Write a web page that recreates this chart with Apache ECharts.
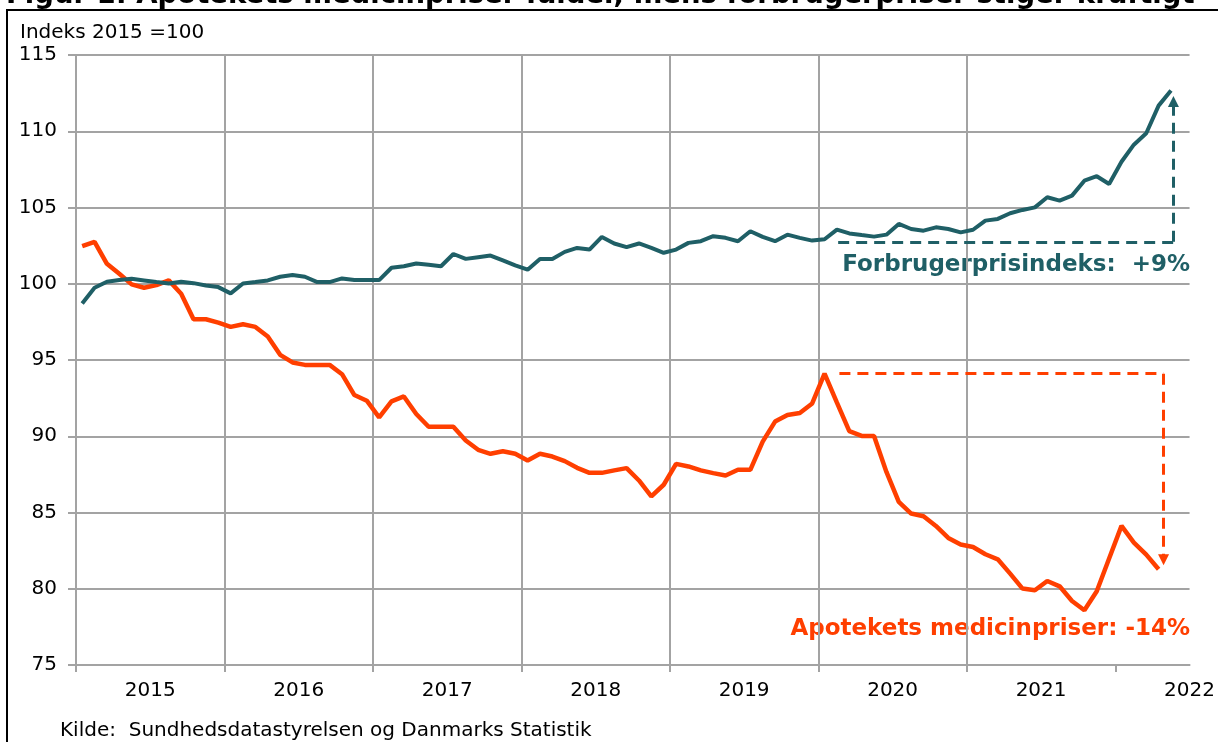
<!DOCTYPE html>
<html>
<head>
<meta charset="utf-8">
<script src="https://cdn.jsdelivr.net/npm/echarts@6/dist/echarts.min.js"></script>
<style>
  html, body { margin: 0; padding: 0; background: #fff; }
  #chart { width: 1218px; height: 742px; }
</style>
</head>
<body>
<div id="chart"></div>
<script>
// monthly index, 2015 = 100 (Jan 2015 onwards)
const yearLabels = ['2015', '2016', '2017', '2018', '2019', '2020', '2021', '2022'];

const forbrugerpriser = [
  98.71, 99.74, 100.13, 100.24, 100.33, 100.22, 100.11, 100.02, 100.13, 100.04, 99.89, 99.78,
  99.37, 100.02, 100.11, 100.22, 100.46, 100.57, 100.46, 100.11, 100.11, 100.35, 100.24, 100.24,
  100.24, 101.05, 101.15, 101.33, 101.24, 101.15, 101.95, 101.63, 101.74, 101.85, 101.53, 101.2,
  100.92, 101.63, 101.63, 102.09, 102.35, 102.24, 103.07, 102.64, 102.4, 102.64, 102.35, 102.03,
  102.24, 102.68, 102.79, 103.12, 103.01, 102.79, 103.44, 103.07, 102.79, 103.22, 103.01, 102.83,
  102.92, 103.55, 103.3, 103.19, 103.09, 103.22, 103.92, 103.59, 103.48, 103.7, 103.59, 103.37,
  103.54, 104.14, 104.25, 104.62, 104.84, 105.01, 105.67, 105.45, 105.78, 106.76, 107.05, 106.54,
  108.0, 109.12, 109.87, 111.68, 112.67
];

const medicinpriser = [
  102.46, 102.75, 101.31, 100.65, 99.96, 99.74, 99.91, 100.22, 99.35, 97.67, 97.67, 97.45,
  97.17, 97.34, 97.17, 96.54, 95.34, 94.84, 94.68, 94.68, 94.68, 94.07, 92.7, 92.33,
  91.24, 92.29, 92.61, 91.46, 90.62, 90.62, 90.62, 89.72, 89.11, 88.85, 89.02, 88.85,
  88.41, 88.85, 88.67, 88.37, 87.93, 87.6, 87.6, 87.76, 87.91, 87.1, 86.06, 86.82,
  88.19, 88.02, 87.76, 87.58, 87.43, 87.8, 87.8, 89.65, 90.96, 91.39, 91.53, 92.15,
  94.1, 92.2, 90.33, 90.02, 90.02, 87.66, 85.69, 84.93, 84.75, 84.12, 83.33, 82.9,
  82.74, 82.26, 81.93, 80.99, 80.01, 79.9, 80.51, 80.16, 79.2, 78.59, 79.84, 81.98,
  84.12, 83.03, 82.24, 81.28
];

// dashed change markers: [xStart, xEnd, level, arrow end]
const cpiMarker = [61.6, 88.7, 102.75, 111.95];
const medMarker = [61.7, 87.9, 94.1, 81.9];

const teal = '#1f5f66';
const orange = '#ff3f00';
const grey = '#a3a3a3';
const font = '"DejaVu Sans", Verdana, sans-serif';

function toPoints(values) {
  return values.map((v, i) => [i + 0.5, v]);
}

function marker(m, color) {
  return {
    silent: true,
    animation: false,
    symbolSize: [11, 11],
    label: { show: false },
    lineStyle: { color: color, width: 3, type: [11, 7] },
    data: [
      [{ coord: [m[0], m[2]], symbol: 'none' }, { coord: [m[1], m[2]], symbol: 'none' }],
      [{ coord: [m[1], m[2]], symbol: 'none' }, { coord: [m[1], m[3]], symbol: 'triangle' }]
    ]
  };
}

const chart = echarts.init(document.getElementById('chart'));

const yearTicks = [];
const yearMids = [];
for (let i = 0; i < yearLabels.length; i++) {
  yearTicks.push(i * 12);
  yearMids.push(i * 12 + 6);
}

chart.setOption({
  animation: false,
  grid: { left: 76, right: 28, top: 55, bottom: 77, containLabel: false },
  xAxis: {
    type: 'value',
    min: 0,
    max: 90,
    interval: 12,
    axisLine: { show: true, lineStyle: { color: grey, width: 2 } },
    axisTick: { show: true, length: 7, customValues: yearTicks, lineStyle: { color: grey, width: 2 } },
    splitLine: { show: true, showMaxLine: false, lineStyle: { color: grey, width: 2 } },
    axisLabel: {
      customValues: yearMids,
      margin: 16,
      color: '#000',
      fontFamily: font,
      fontSize: 20,
      formatter: v => yearLabels[Math.round((v - 6) / 12)]
    }
  },
  yAxis: {
    type: 'value',
    min: 75,
    max: 115,
    interval: 5,
    axisLine: { show: true, lineStyle: { color: grey, width: 2 } },
    axisTick: { show: true, length: 8, lineStyle: { color: grey, width: 2 } },
    splitLine: { show: true, lineStyle: { color: grey, width: 2 } },
    axisLabel: { margin: 19, color: '#000', fontFamily: font, fontSize: 20 }
  },
  series: [
    {
      name: 'Apotekets medicinpriser',
      type: 'line',
      data: toPoints(medicinpriser),
      showSymbol: false,
      lineStyle: { color: orange, width: 4.5 },
      itemStyle: { color: orange },
      markLine: marker(medMarker, orange)
    },
    {
      name: 'Forbrugerprisindeks',
      type: 'line',
      data: toPoints(forbrugerpriser),
      showSymbol: false,
      lineStyle: { color: teal, width: 4 },
      itemStyle: { color: teal },
      markLine: marker(cpiMarker, teal)
    }
  ],
  graphic: [
    {
      type: 'rect',
      shape: { x: 7, y: 10, width: 1400, height: 900 },
      style: { fill: 'none', stroke: '#000', lineWidth: 2 },
      silent: true
    },
    {
      type: 'text',
      x: 6, y: -4.5,
      style: {
        text: 'Figur 1: Apotekets medicinpriser falder, mens forbrugerpriser stiger kraftigt',
        fill: '#000', font: 'bold 27.5px ' + font,
        textAlign: 'left', textVerticalAlign: 'middle', align: 'left', verticalAlign: 'middle'
      }
    },
    {
      type: 'text',
      x: 20, y: 33,
      style: {
        text: 'Indeks 2015 =100', fill: '#000', font: '20px ' + font,
        textAlign: 'left', textVerticalAlign: 'middle', align: 'left', verticalAlign: 'middle'
      }
    },
    {
      type: 'text',
      x: 1190, y: 265,
      style: {
        text: 'Forbrugerprisindeks:  +9%', fill: teal, font: 'bold 23px ' + font,
        textAlign: 'right', textVerticalAlign: 'middle', align: 'right', verticalAlign: 'middle'
      }
    },
    {
      type: 'text',
      x: 1190, y: 629,
      style: {
        text: 'Apotekets medicinpriser: -14%', fill: orange, font: 'bold 23px ' + font,
        textAlign: 'right', textVerticalAlign: 'middle', align: 'right', verticalAlign: 'middle'
      }
    },
    {
      type: 'text',
      x: 60, y: 731,
      style: {
        text: 'Kilde:  Sundhedsdatastyrelsen og Danmarks Statistik', fill: '#000', font: '20px ' + font,
        textAlign: 'left', textVerticalAlign: 'middle', align: 'left', verticalAlign: 'middle'
      }
    }
  ]
});
</script>
</body>
</html>
